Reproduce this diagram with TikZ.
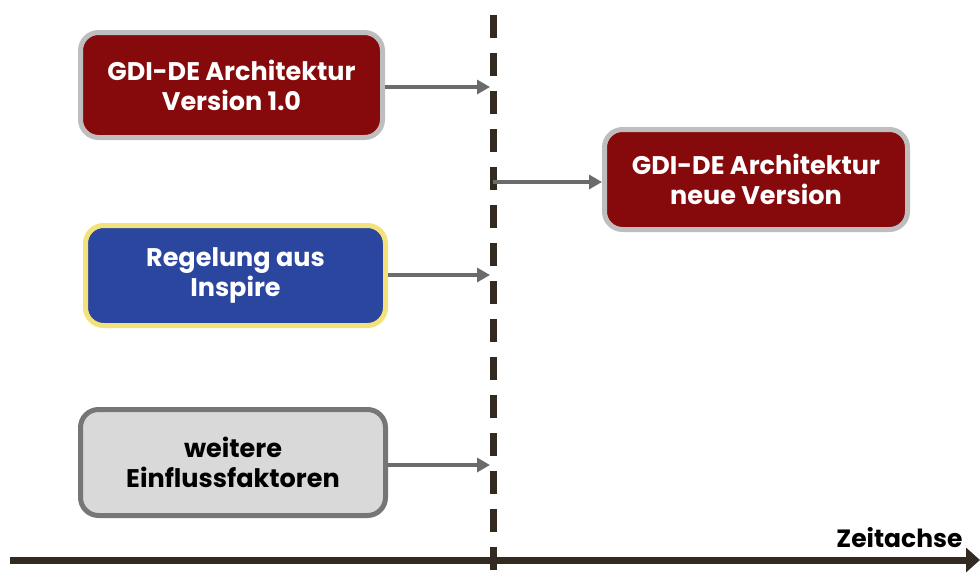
\documentclass[tikz,border=0pt]{standalone}
\usepackage{fontspec}
\setmainfont{Poppins}
\usetikzlibrary{arrows.meta}
\usetikzlibrary{positioning}
\definecolor{DarkRed}{HTML}{860A0B}
\definecolor{LightGray}{HTML}{BEBEBE}
\definecolor{RoyalBlue}{HTML}{2B469E}
\definecolor{PaleYellow}{HTML}{F3E27C}
\definecolor{BoxGray}{HTML}{D9D9D9}
\definecolor{EdgeGray}{HTML}{767676}
\definecolor{ArrowGray}{HTML}{6B6B6B}
\definecolor{DarkBrown}{HTML}{332A22}
\tikzset{
  phase/.style={rectangle, rounded corners=18pt, line width=5pt, align=center,
    font=\fontsize{25.5}{30}\selectfont\bfseries, inner sep=0pt},
  oldarch/.style={phase, draw=LightGray, fill=DarkRed, text=white},
  rule/.style={phase, draw=PaleYellow, fill=RoyalBlue, text=white},
  other/.style={phase, draw=EdgeGray, fill=BoxGray, text=black},
  flow/.style={line width=3.5pt, ArrowGray, -{Triangle[length=13pt,width=14pt]}}
}

\begin{document}
\begin{tikzpicture}[x=1pt, y=-1pt]
  \useasboundingbox (0,0) rectangle (980,576);

  % Stichtag
  \coordinate (CutTop) at (493,15);
  \coordinate (CutBot) at (493,576);
  \draw [line width=7pt, DarkBrown, dash pattern=on 23pt off 15pt] (CutTop) -- (CutBot);

  % Zeitachse
  \coordinate (Start) at (10,560);
  \coordinate (End)   at (980,560);
  \draw [line width=7pt, DarkBrown, -{Triangle[length=14pt,width=24pt]}] (Start) -- (End);
  \node [anchor=south east, font=\fontsize{25}{28}\selectfont\bfseries] (zeit)
    at (966,551) {Zeitachse};

  \node [oldarch, minimum width=302pt, minimum height=105pt] (version)
    at (231.5,85) {GDI-DE Architektur\\Version 1.0};
  \node [rule, minimum width=300pt, minimum height=100pt] (inspire)
    at (235.5,275.5) {Regelung aus\\Inspire};
  \node [other, minimum width=305pt, minimum height=106pt] (faktoren)
    at (233,462.5) {weitere\\Einflussfaktoren};
  \node [oldarch, minimum width=303pt, minimum height=100pt] (neu)
    at (756,179.5) {GDI-DE Architektur\\neue Version};

  \coordinate (C1) at (490,87);
  \coordinate (C2) at (490,275);
  \coordinate (C3) at (490,465);
  \coordinate (C4) at (493,182);

  \draw [flow] (version.east |- C1) -- (C1);
  \draw [flow] (inspire.east |- C2) -- (C2);
  \draw [flow] (faktoren.east |- C3) -- (C3);
  \draw [flow] (C4) -- (neu.west |- C4);
\end{tikzpicture}
\end{document}
